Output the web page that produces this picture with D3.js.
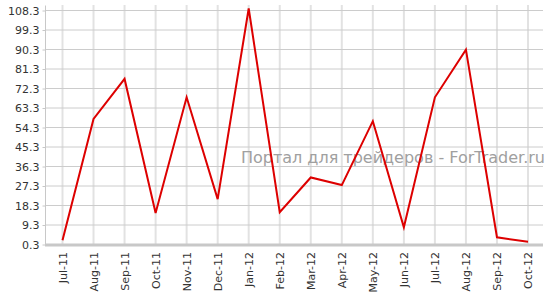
<!DOCTYPE html>
<html>
  <head>
    <meta charset="utf-8"/>
    <title>ForTrader chart</title>
    <script src="https://cdnjs.cloudflare.com/ajax/libs/d3/7.8.5/d3.min.js"></script>
    <style>
      body { margin: 0; background: #fff; }
      text { font-family: Verdana, "DejaVu Sans", sans-serif; }
    </style>
  </head>
  <body>
    <script>
      var width = 555;
      var height = 294;

      var months = ["Jul-11", "Aug-11", "Sep-11", "Oct-11", "Nov-11", "Dec-11", "Jan-12", "Feb-12",
                    "Mar-12", "Apr-12", "May-12", "Jun-12", "Jul-12", "Aug-12", "Sep-12", "Oct-12"];
      var values = [2, 58, 76.5, 14.6, 68, 21, 109, 15, 31, 27.5, 57, 8, 68, 90, 3.4, 1.3];
      var yTicks = [0.3, 9.3, 18.3, 27.3, 36.3, 45.3, 54.3, 63.3, 72.3, 81.3, 90.3, 99.3, 108.3];

      var plotLeft = 45, plotRight = 543, plotTop = 10, plotBottom = 244;

      var svg = d3.select("body").append("svg")
        .attr("width", width)
        .attr("height", height);

      var x = d3.scalePoint().domain(months).range([62.5, 528]);
      var y = d3.scaleLinear().domain([0.3, 108.3]).range([plotBottom, plotTop]);

      // vertical grid
      svg.append("g").selectAll("line").data(months).enter().append("line")
        .attr("x1", function (d){ return x(d); })
        .attr("x2", function (d){ return x(d); })
        .attr("y1", 5).attr("y2", plotBottom)
        .attr("stroke", "#e2e2e2").attr("stroke-width", 2);

      // horizontal grid
      svg.append("g").selectAll("line").data(yTicks).enter().append("line")
        .attr("x1", plotLeft).attr("x2", plotRight)
        .attr("y1", function (d){ return y(d) + 0.5; })
        .attr("y2", function (d){ return y(d) + 0.5; })
        .attr("stroke", "#cccccc").attr("stroke-width", 1);

      // y axis
      var yAxis = d3.axisLeft(y).tickValues(yTicks).tickSize(3).tickPadding(3)
        .tickFormat(function (d){ return d.toFixed(1); });
      var gy = svg.append("g").attr("transform", "translate(" + (plotLeft + 0.5) + ",0.5)").call(yAxis);
      gy.select(".domain").attr("stroke", "#c8c8c8").attr("d", "M0," + (plotTop - 5) + "V" + plotBottom);
      gy.selectAll(".tick line").attr("stroke", "#c8c8c8");
      gy.selectAll("text").attr("font-size", 11).attr("fill", "#333");

      // x axis
      var xAxis = d3.axisBottom(x).tickSize(0).tickPadding(6);
      var gx = svg.append("g").attr("transform", "translate(0," + (plotBottom + 1) + ")").call(xAxis);
      gx.select(".domain").remove();
      gx.append("line").attr("x1", plotLeft).attr("x2", plotRight).attr("y1", 0).attr("y2", 0)
        .attr("stroke", "#c8c8c8").attr("stroke-width", 3);
      gx.selectAll("text")
        .attr("font-size", 11).attr("fill", "#333")
        .attr("transform", "rotate(-90)")
        .attr("text-anchor", "end")
        .attr("x", -7).attr("y", 0).attr("dy", "0.35em");

      // watermark
      svg.append("text")
        .attr("x", 545).attr("y", 163)
        .attr("text-anchor", "end")
        .attr("font-size", 16)
        .attr("fill", "#a0a0a0")
        .text("Портал для трейдеров - ForTrader.ru");

      // line
      var line = d3.line()
        .x(function (d, i){ return x(months[i]); })
        .y(function (d){ return y(d); });
      svg.append("path").datum(values)
        .attr("d", line)
        .attr("fill", "none")
        .attr("stroke", "#dd0000")
        .attr("stroke-width", 2);
    </script>
  </body>
</html>
